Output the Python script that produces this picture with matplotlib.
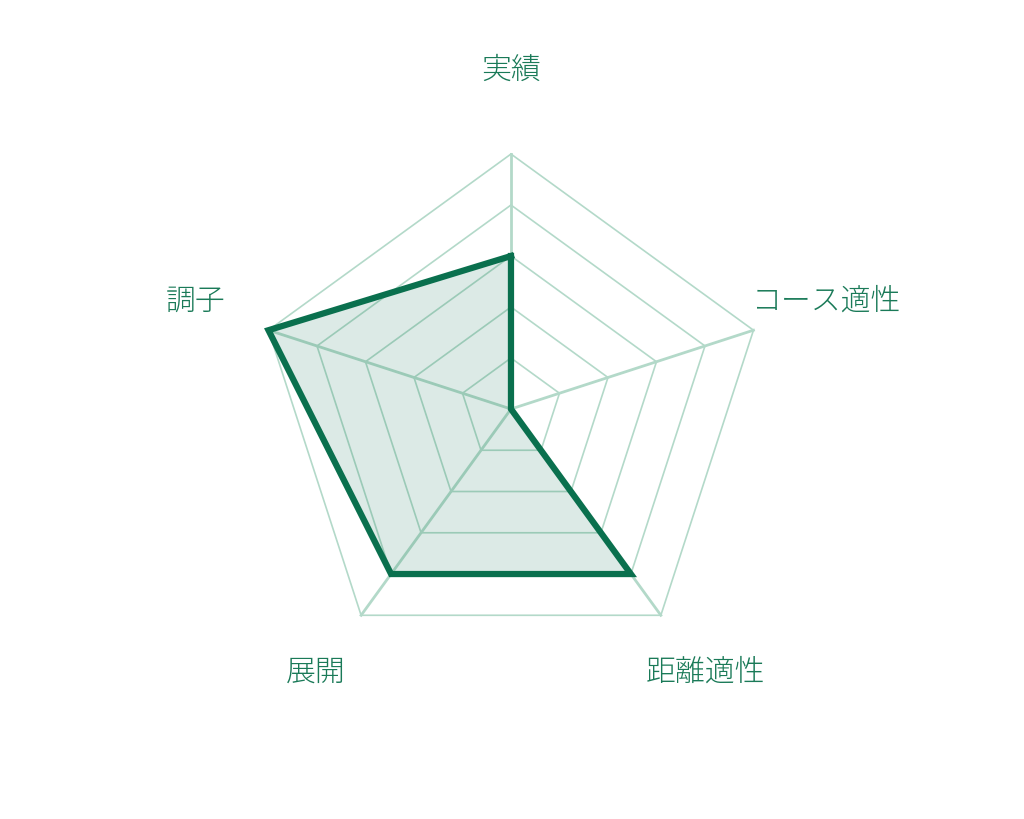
import numpy as np
import matplotlib
matplotlib.use("Agg")
import matplotlib.pyplot as plt

plt.rcParams['font.family'] = ['Noto Sans CJK JP', 'DejaVu Sans']

# 項目と値
labels = ['実績', 'コース適性', '距離適性', '展開', '調子']
values = [3, 0, 4, 4, 5]
levels = [1, 2, 3, 4, 5]

line_color = '#0a704e'
grid_color = '#b3d9c9'
text_color = '#1a7a58'

n = len(labels)
ang = np.arange(n) * 2 * np.pi / n  # 上から時計回り

def xy(r):
    r = np.asarray(r, dtype=float)
    return r * np.sin(ang), r * np.cos(ang)

fig = plt.figure(figsize=(10.24, 8.2), dpi=100)
ax = fig.add_axes([0, 0, 1, 1])
ax.set_xlim(-10.02, 10.06)
ax.set_ylim(-8.04, 8.04)
ax.set_aspect('equal')
ax.axis('off')

# グリッド(五角形)
for lv in levels:
    gx, gy = xy([lv] * n)
    ax.plot(np.append(gx, gx[0]), np.append(gy, gy[0]), color=grid_color, lw=1.2, zorder=1)
# 軸線
ox, oy = xy([levels[-1]] * n)
for i in range(n):
    ax.plot([0, ox[i]], [0, oy[i]], color=grid_color, lw=2.0, zorder=1)

# データ
dx, dy = xy(values)
dx = np.append(dx, dx[0])
dy = np.append(dy, dy[0])
ax.fill(dx, dy, color=line_color, alpha=0.14, lw=0, zorder=2)
ax.plot(dx, dy, color=line_color, lw=4.5, solid_joinstyle='miter', zorder=3)

# ラベル
tx, ty = xy([6.5] * n)
ty = ty + 0.12
ty[0] = 6.66
for i, lab in enumerate(labels):
    ax.text(tx[i], ty[i], lab, ha='center', va='center', fontsize=21.5,
            color=text_color, fontweight='light')

fig.savefig('out.png', dpi=100, facecolor='white')
